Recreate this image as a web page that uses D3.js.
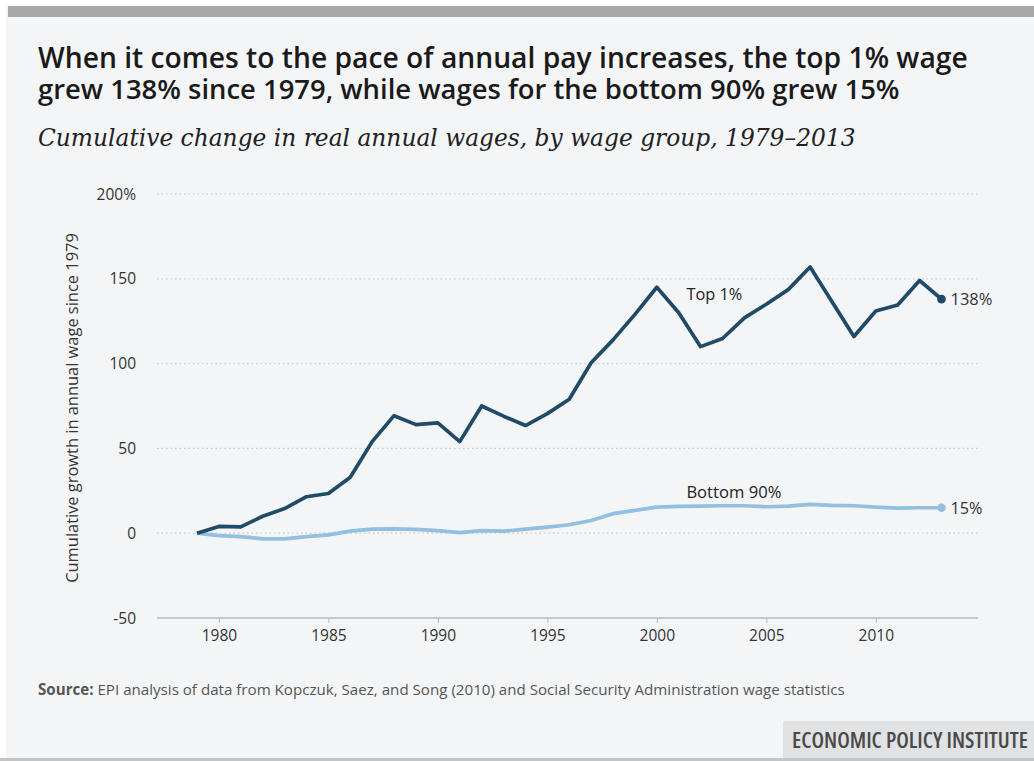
<!DOCTYPE html>
<html>
<head>
<meta charset="utf-8">
<script src="https://cdn.jsdelivr.net/npm/d3@7"></script>
<style>
  body { margin: 0; background: #ffffff; }
  svg { display: block; }
</style>
</head>
<body>
<div id="chart-area"></div>
<script>
// Data
const years = d3.range(1979, 2014);
const top1 = [0, 4, 3.7, 10, 14.5, 21.5, 23.4, 33, 54, 69.3, 64, 65, 54, 75, 69, 63.5, 70.5, 79,
  100.5, 114, 129, 145, 130, 110, 114.8, 127, 135, 143.6, 157, 136.5, 116, 131, 134.5, 149, 138];
const bottom90 = [0, -1.4, -2, -3.3, -3.3, -2, -1, 1.2, 2.4, 2.6, 2.2, 1.5, 0.3, 1.5, 1.2, 2.4, 3.6, 5,
  7.5, 11.5, 13.5, 15.4, 15.8, 16, 16.2, 16.2, 15.6, 16, 17, 16.4, 16.2, 15.4, 14.8, 15, 15];
const yTicks = [-50, 0, 50, 100, 150, 200];
const xTicks = [1980, 1985, 1990, 1995, 2000, 2005, 2010];

const W = 1034, H = 761;
const sans = "'Open Sans', 'Noto Sans', sans-serif";

const svg = d3.select("#chart-area").append("svg")
  .attr("width", W)
  .attr("height", H);

// Panel background and top bar
svg.append("rect").attr("x", 6).attr("y", 6).attr("width", W - 6).attr("height", H - 6).attr("fill", "#f4f5f7");
svg.append("rect").attr("x", 8).attr("y", 6).attr("width", W - 8).attr("height", 11).attr("fill", "#a9a9a9");

// Pick the widest face that fits, then nudge font size to hit the target width
function fit(sel, target) {
  const stretches = ["100%", "semi-condensed", "condensed"];
  let w;
  for (const st of stretches) {
    sel.style("font-stretch", st);
    w = sel.node().getComputedTextLength();
    if (w <= target * 1.03) break;
  }
  const fs = parseFloat(sel.style("font-size"));
  sel.style("font-size", (fs * target / w) + "px");
}

function label(x0, y0, str, size, target, anchor) {
  const t = svg.append("text")
    .attr("x", x0)
    .attr("y", y0)
    .attr("text-anchor", anchor || "start")
    .style("font-family", sans)
    .style("font-size", size + "px")
    .style("fill", "#333")
    .text(str);
  if (target) fit(t, target);
  return t;
}

// Title
const titleLines = [
  "When it comes to the pace of annual pay increases, the top 1% wage",
  "grew 138% since 1979, while wages for the bottom 90% grew 15%"
];
const titleWidths = [930, 862];
titleLines.forEach((t, i) => {
  const tx = svg.append("text")
    .attr("x", 38)
    .attr("y", 68 + i * 31)
    .style("font-family", sans)
    .style("font-weight", 600)
    .style("font-size", "28px")
    .style("fill", "#1a1a1a")
    .text(t);
  fit(tx, titleWidths[i]);
});

const sub = svg.append("text")
  .attr("x", 38)
  .attr("y", 146)
  .style("font-family", "'DejaVu Serif', 'Liberation Serif', serif")
  .style("font-style", "italic")
  .style("font-size", "21px")
  .style("fill", "#222")
  .text("Cumulative change in real annual wages, by wage group, 1979–2013");
const sw = sub.node().getComputedTextLength();
sub.style("font-size", (21 * 818 / sw) + "px");

// Scales
const x = d3.scaleLinear().domain([1979, 2013]).range([197, 941.5]);
const y = d3.scaleLinear().domain([-50, 200]).range([618, 194]);
const gridX0 = 157, gridX1 = 978;

// Gridlines (dotted)
svg.append("g")
  .selectAll("line")
  .data(yTicks.filter(d => d > -50))
  .join("line")
  .attr("x1", gridX0)
  .attr("x2", gridX1)
  .attr("y1", d => y(d))
  .attr("y2", d => y(d))
  .attr("stroke", "#c9ccd0")
  .attr("stroke-width", 1.2)
  .attr("stroke-dasharray", "1.5,3");

// Y tick labels
yTicks.forEach(d => {
  const str = d === 200 ? "200%" : String(d);
  label(136, y(d), str, 15.5, null, "end").attr("dy", "0.36em");
});

// Y axis title
const yt = svg.append("text")
  .attr("transform", `translate(78, 408) rotate(-90)`)
  .attr("text-anchor", "middle")
  .style("font-family", sans)
  .style("font-size", "16.5px")
  .style("fill", "#333")
  .text("Cumulative growth in annual wage since 1979");
fit(yt, 350);

// X axis
const xAxis = d3.axisBottom(x)
  .tickValues(xTicks)
  .tickFormat(d3.format("d"))
  .tickSize(5)
  .tickPadding(7);

const xg = svg.append("g")
  .attr("transform", `translate(0, ${y(-50)})`)
  .call(xAxis);
xg.select(".domain").remove();
xg.insert("line", ":first-child")
  .attr("x1", gridX0).attr("x2", gridX1)
  .attr("stroke", "#b9bcc0").attr("stroke-width", 1.6);
xg.selectAll(".tick line").attr("stroke", "#b9bcc0");
xg.selectAll(".tick text")
  .style("font-family", sans)
  .style("font-size", "15.5px")
  .style("fill", "#333");

// Lines
const line = d3.line()
  .x((d, i) => x(years[i]))
  .y(d => y(d));

const series = [
  { name: "Bottom 90%", values: bottom90, color: "#93bfe0", end: "15%", endW: 32, lab: [2001.35, 21], labW: 95 },
  { name: "Top 1%", values: top1, color: "#204b68", end: "138%", endW: 42, lab: [2001.35, 137.5], labW: 56 }
];

series.forEach(s => {
  svg.append("path")
    .datum(s.values)
    .attr("fill", "none")
    .attr("stroke", s.color)
    .attr("stroke-width", 3.7)
    .attr("stroke-linejoin", "round")
    .attr("d", line);

  const last = s.values[s.values.length - 1];
  svg.append("circle")
    .attr("cx", x(2013))
    .attr("cy", y(last))
    .attr("r", 4.3)
    .attr("fill", s.color);

  label(x(2013) + 9, y(last), s.end, 16.5, s.endW).attr("dy", "0.38em");

  // series name label
  label(x(s.lab[0]), y(s.lab[1]), s.name, 16.5, s.labW).style("fill", "#222");
});

// Source note
const src = svg.append("text")
  .attr("x", 38)
  .attr("y", 695)
  .style("font-family", sans)
  .style("font-size", "14px")
  .style("fill", "#555");
src.append("tspan").style("font-weight", 700).text("Source: ");
src.append("tspan").text("EPI analysis of data from Kopczuk, Saez, and Song (2010) and Social Security Administration wage statistics");
fit(src, 808);

// Footer
svg.append("rect").attr("x", 783).attr("y", 721).attr("width", W - 783).attr("height", 37).attr("fill", "#e1e2e4");
svg.append("rect").attr("x", 0).attr("y", 758).attr("width", W).attr("height", 3).attr("fill", "#c4c5c7");
const foot = svg.append("text")
  .attr("x", 792)
  .attr("y", 748)
  .style("font-family", sans)
  .style("font-weight", 600)
  .style("font-size", "19px")
  .style("fill", "#4a4a4a")
  .text("ECONOMIC POLICY INSTITUTE");
fit(foot, 236);
</script>
</body>
</html>
